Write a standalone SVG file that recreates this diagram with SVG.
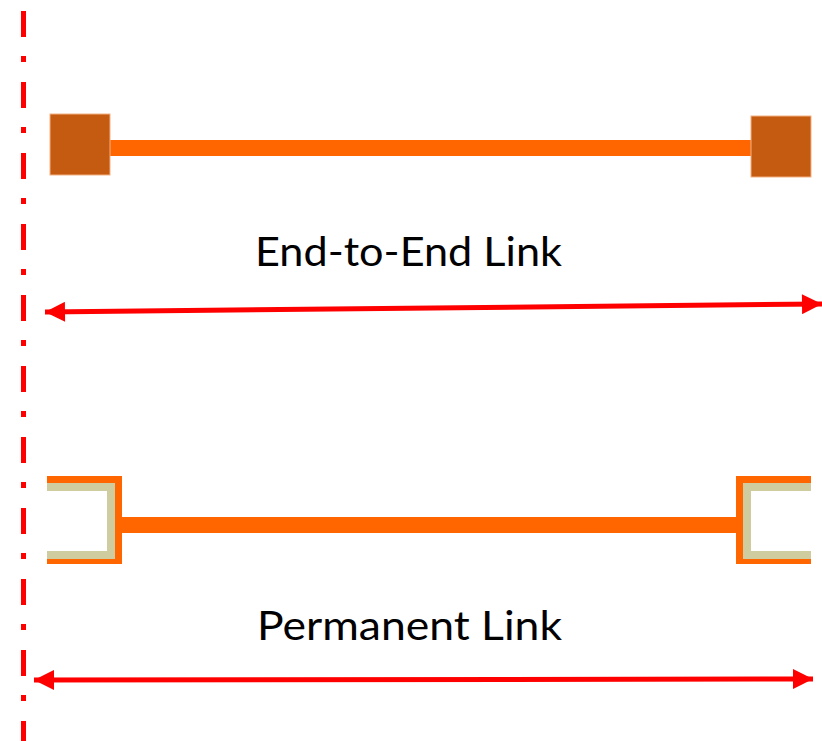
<svg xmlns="http://www.w3.org/2000/svg" width="822" height="741" viewBox="0 0 822 741">
<style>
.cable{stroke:#FF6600;stroke-width:16;fill:none}
.plug{fill:#C55A11;stroke:#F4B183;stroke-width:1}
.jack-o{stroke:#FF6600;stroke-width:7;fill:none}
.jack-i{stroke:#CFCD9F;stroke-width:8;fill:none}
.dim{stroke:#FF0000;stroke-width:5;fill:none}
.lbl{font-family:Lato,"Liberation Sans",Arial,sans-serif;font-size:40px;fill:#000}
</style>
<defs>
<marker id="ah" viewBox="0 0 10 10" refX="10" refY="5" markerWidth="4.4" markerHeight="4" orient="auto-start-reverse" markerUnits="strokeWidth">
<path d="M0,0 L10,5 L0,10 z" fill="#FF0000"/>
</marker>
</defs>
<rect width="822" height="741" fill="#fff"/>
<g id="centerline">
<line x1="23.5" y1="11" x2="23.5" y2="741" stroke="#FF0000" stroke-width="5" stroke-dasharray="26 19 6 20"/>
</g>
<g id="connectors">
<line class="cable" x1="110" y1="148" x2="751" y2="148"/>
<line class="cable" x1="122" y1="525" x2="736" y2="525"/>
<line class="dim" x1="45" y1="312" x2="822" y2="304" marker-start="url(#ah)" marker-end="url(#ah)"/>
<line class="dim" x1="34" y1="680" x2="813" y2="679" marker-start="url(#ah)" marker-end="url(#ah)"/>
</g>
<g id="plug-left"><rect class="plug" x="50" y="114" width="60" height="61"/></g>
<g id="plug-right"><rect class="plug" x="751" y="116" width="60" height="61"/></g>
<g id="jack-left">
<path class="jack-o" d="M47,479.5 H118.5 V560.5 H47"/>
<path class="jack-i" d="M47,487 H111 V555 H47"/>
</g>
<g id="jack-right">
<path class="jack-o" d="M811,479.5 H739.5 V560.5 H811"/>
<path class="jack-i" d="M811,487 H747 V555 H811"/>
</g>
<g id="label-e2e"><text class="lbl" x="255" y="266" textLength="307" lengthAdjust="spacingAndGlyphs">End-to-End Link</text></g>
<g id="label-perm"><text class="lbl" x="257" y="640" textLength="305" lengthAdjust="spacingAndGlyphs">Permanent Link</text></g>
</svg>
